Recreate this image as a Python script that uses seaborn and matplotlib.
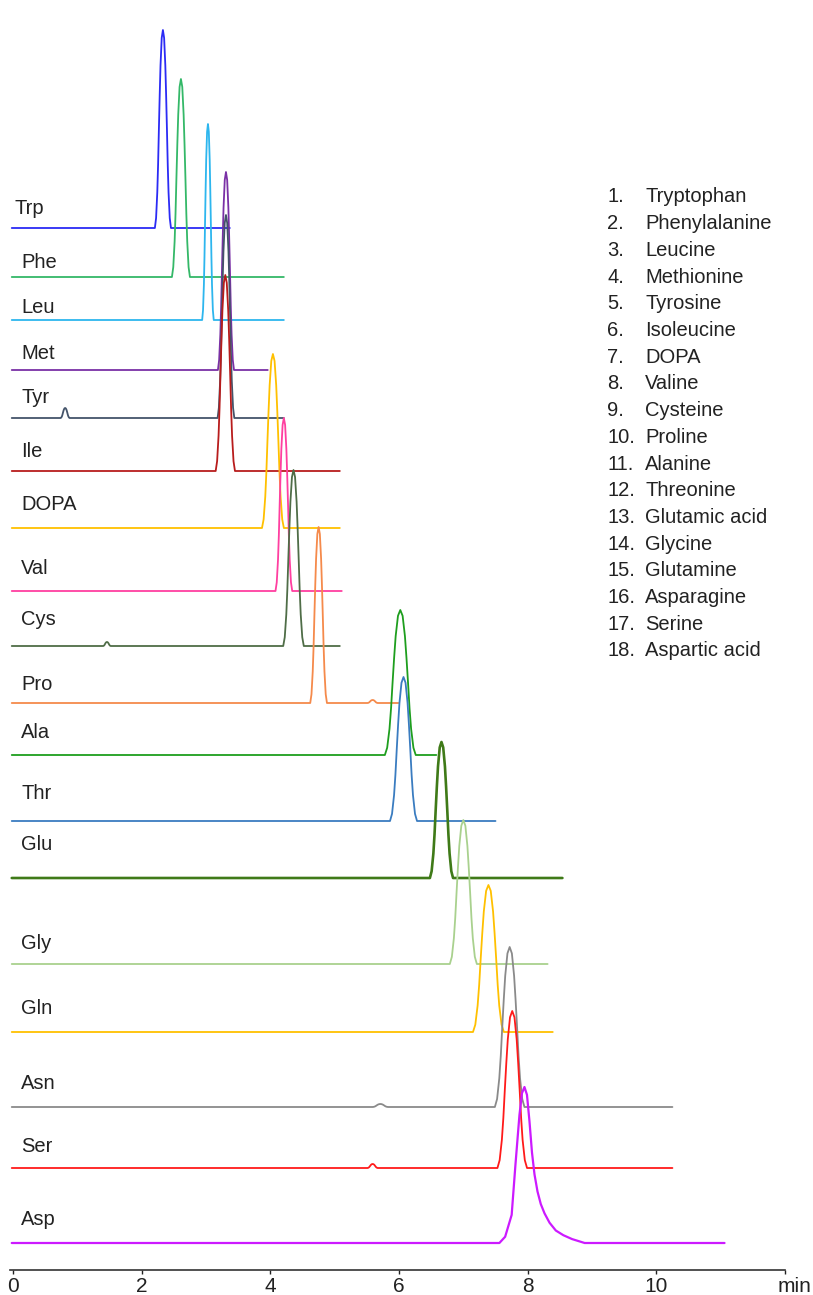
# IMPORT LIBRARIES

import numpy as np
import pandas as pd
import matplotlib
matplotlib.use("Agg")
import matplotlib.pyplot as plt
import seaborn as sns

# CHROMATOGRAM DATA

names = ["Trp", "Phe", "Leu", "Met", "Tyr", "Ile", "DOPA", "Val", "Cys",
         "Pro", "Ala", "Thr", "Glu", "Gly", "Gln", "Asn", "Ser", "Asp"]

full_names = ["Tryptophan", "Phenylalanine", "Leucine", "Methionine",
              "Tyrosine", "Isoleucine", "DOPA", "Valine", "Cysteine",
              "Proline", "Alanine", "Threonine", "Glutamic acid", "Glycine",
              "Glutamine", "Asparagine", "Serine", "Aspartic acid"]

# retention time of main peak (min)
retention = [2.33, 2.61, 3.03, 3.31, 3.31, 3.30, 4.04, 4.21, 4.36,
             4.75, 6.02, 6.07, 6.66, 7.00, 7.39, 7.72, 7.76, 7.95]

# peak height (signal units)
peak_height = [198, 198, 196, 198, 203, 196, 174, 173, 176,
               176, 145, 144, 136, 144, 147, 160, 157, 156]

# half of the peak base width (min)
half_width = [0.125, 0.14, 0.09, 0.125, 0.13, 0.15, 0.17, 0.13, 0.16,
              0.13, 0.24, 0.21, 0.18, 0.21, 0.24, 0.23, 0.23, 0.39]

# end of each recorded run (min)
run_end = [3.37, 4.21, 4.21, 3.96, 4.21, 5.08, 5.08, 5.11, 5.08,
           5.99, 6.58, 7.50, 8.54, 8.31, 8.39, 10.25, 10.25, 11.06]

# normalised peak profile (time in half widths, signal in peak heights)
peak_dt = [-1.0, -0.85, -0.7, -0.6, -0.5, -0.4, -0.3, -0.15, 0.0,
           0.15, 0.3, 0.4, 0.5, 0.6, 0.7, 0.85, 1.0]
peak_shape = [0.0, 0.05, 0.18, 0.32, 0.5, 0.67, 0.82, 0.96, 1.0,
              0.96, 0.82, 0.67, 0.5, 0.32, 0.18, 0.05, 0.0]

# tailing profile of the aspartic acid peak
tail_dt = [-1.0, -0.77, -0.51, -0.36, -0.2, -0.1, 0.0, 0.1, 0.2, 0.3, 0.4,
           0.52, 0.65, 0.8, 1.0, 1.25, 1.55, 1.9, 2.4]
tail_shape = [0.0, 0.04, 0.18, 0.5, 0.82, 0.96, 1.0, 0.95, 0.78, 0.58, 0.44,
              0.33, 0.25, 0.19, 0.13, 0.08, 0.05, 0.025, 0.0]

# small side peaks
minor_trace = ["Tyr", "Cys", "Pro", "Asn", "Ser"]
minor_time = [0.81, 1.46, 5.59, 5.71, 5.59]
minor_height = [10, 4, 3, 3, 4]
minor_width = [0.07, 0.06, 0.08, 0.12, 0.08]

# LAYOUT / STYLE

offsets = [1042, 993, 950, 900, 852, 799, 742, 679, 624,
           567, 515, 449, 392, 306, 238, 163, 102, 27]
label_y = [1056, 1002, 957, 911, 867, 813, 760, 696, 645,
           580, 532, 471, 420, 321, 256, 181, 118, 45]

colors = ["#2b2bf5", "#34b868", "#2db6ee", "#7a30a6", "#44546a", "#b81c1c",
          "#ffc000", "#ff3fa0", "#4f6d47", "#f58a4b", "#1e9e1e", "#3a7cc0",
          "#3f7a18", "#a9d18e", "#ffc000", "#8a8a8a", "#ff1a1a", "#cc1aff"]

# BUILD LONG TABLE

rows = []
for i, name in enumerate(names):
    pts = [(-0.02, 0.0), (run_end[i], 0.0)]
    if name == "Asp":
        dts, shp = tail_dt, tail_shape
    else:
        dts, shp = peak_dt, peak_shape
    for d, s in zip(dts, shp):
        pts.append((retention[i] + d * half_width[i], s * peak_height[i]))
    for t, tm, h, w in zip(minor_trace, minor_time, minor_height, minor_width):
        if t == name:
            for d, s in zip(peak_dt, peak_shape):
                pts.append((tm + d * w, s * h))
    for x, y in pts:
        rows.append({"time": x, "signal": y + offsets[i], "trace": name})

df = pd.DataFrame(rows)

# PLOT

sns.set_style("white")
plt.rcParams["font.family"] = ["Liberation Sans", "DejaVu Sans"]

fig = plt.figure(figsize=(8.13, 12.95), dpi=100)
ax = fig.add_axes([10 / 813, 25 / 1295, 775 / 813, 1270 / 1295])

sns.lineplot(data=df, x="time", y="signal", hue="trace", hue_order=names,
             palette=dict(zip(names, colors)), estimator=None, sort=True,
             legend=False, linewidth=1.3, ax=ax)

for line, name in zip(ax.lines, names):
    if name == "Glu":
        line.set_linewidth(1.9)
    elif name == "Asp":
        line.set_linewidth(1.6)

ax.set_xlim(-0.047, 12.0)
ax.set_ylim(0, 1270)

for i, name in enumerate(names):
    x = 0.02 if name == "Trp" else 0.125
    ax.text(x, label_y[i], name, fontsize=14.5, color="#222222", va="baseline")

ax.set_xticks([0, 2, 4, 6, 8, 10, 12])
ax.set_xticklabels(["0", "2", "4", "6", "8", "10", ""])
ax.tick_params(axis="x", direction="out", length=3, width=1, pad=2,
               labelsize=15, colors="#222222", bottom=True)
ax.set_yticks([])
ax.set_xlabel("")
ax.set_ylabel("")
for side in ["left", "top", "right"]:
    ax.spines[side].set_visible(False)
ax.spines["bottom"].set_color("#333333")
ax.spines["bottom"].set_linewidth(1.2)

ax.text(12.14, -17, "min", fontsize=15, color="#222222",
        ha="center", va="center", clip_on=False)

# compound list
for i, full in enumerate(full_names):
    y = 1 - (197 + i * 26.7) / 1295
    fig.text(607 / 813, y, f"{i + 1}.", fontsize=14.5, color="#222222", va="center")
    fig.text(645 / 813, y, full, fontsize=14.5, color="#222222", va="center")

plt.savefig("out.png", dpi=100)
plt.close()
